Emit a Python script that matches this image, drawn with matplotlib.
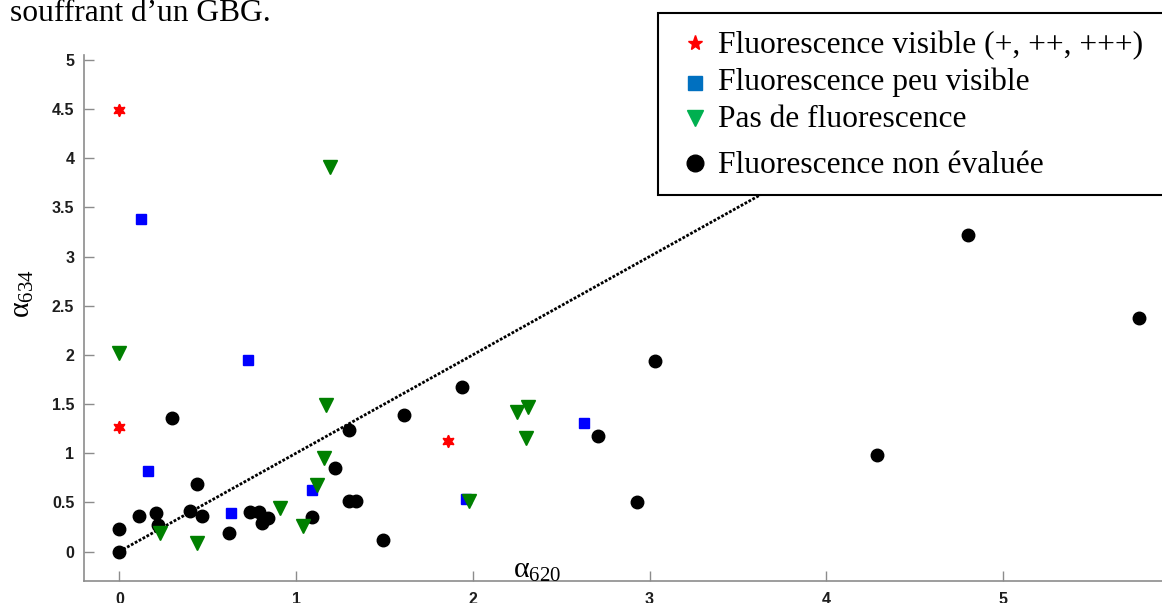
import matplotlib
matplotlib.use("Agg")
import matplotlib.pyplot as plt
from matplotlib.lines import Line2D
from matplotlib.patches import Rectangle

# values (x = alpha620, y = alpha634)
visible_x = [0.0, 0.0, 1.86]
visible_y = [4.49, 1.27, 1.12]

faint_x = [0.125, 0.164, 0.73, 0.63, 1.09, 1.96, 2.63]
faint_y = [3.38, 0.82, 1.95, 0.39, 0.63, 0.53, 1.31]

none_x = [0.0, 1.19, 0.23, 0.44, 0.91, 1.04, 1.12, 1.16, 1.17, 1.98, 2.25, 2.31, 2.30]
none_y = [2.02, 3.91, 0.19, 0.09, 0.44, 0.26, 0.68, 0.95, 1.49, 0.51, 1.42, 1.47, 1.15]

noeval_x = [0.0, 0.0, 0.11, 0.21, 0.22, 0.30, 0.40, 0.44, 0.47, 0.62, 0.74, 0.79,
            0.81, 0.84, 1.09, 1.22, 1.30, 1.30, 1.34, 1.49, 1.61, 1.94, 2.71, 2.93,
            3.03, 4.29, 4.80, 5.77]
noeval_y = [0.0, 0.23, 0.36, 0.39, 0.27, 1.36, 0.41, 0.69, 0.36, 0.19, 0.40, 0.40,
            0.29, 0.34, 0.35, 0.85, 1.24, 0.51, 0.51, 0.12, 1.39, 1.67, 1.17, 0.50,
            1.94, 0.98, 3.22, 2.38]

diag_x = [0, 5]
diag_y = [0, 5]

x_ticks = [0, 1, 2, 3, 4, 5]
y_ticks = [0, 0.5, 1, 1.5, 2, 2.5, 3, 3.5, 4, 4.5, 5]
y_ticklabels = ["0", "0.5", "1", "1.5", "2", "2.5", "3", "3.5", "4", "4.5", "5"]

legend_labels = ["Fluorescence visible (+, ++, +++)",
                 "Fluorescence peu visible",
                 "Pas de fluorescence",
                 "Fluorescence non évaluée"]

plt.rcParams['mathtext.fontset'] = 'custom'
plt.rcParams['mathtext.rm'] = 'Liberation Serif'

fig = plt.figure(figsize=(11.62, 6.03), dpi=100)
ax = fig.add_axes([84 / 1162, 22 / 603, 1 - 84 / 1162, (581 - 55) / 603])

spine_col = '#8c8c8c'

ax.plot(diag_x, diag_y, color='black', linestyle=(0, (1, 0.6)), linewidth=2.0, zorder=1)
ax.plot(noeval_x, noeval_y, 'o', color='black', markersize=9, zorder=2)
ax.plot(faint_x, faint_y, 's', color='blue', markersize=7, zorder=3)
ax.plot(none_x, none_y, 'v', color='green', markersize=9.5, zorder=4)
ax.plot(visible_x, visible_y, marker=(6, 1, 0), linestyle='none', color='red',
        markersize=9, zorder=5)

ax.set_xlim(-0.2, 5.9)
ax.set_ylim(-0.3, 5.05)
ax.set_xticks(x_ticks)
ax.set_yticks(y_ticks)
ax.set_yticklabels(y_ticklabels)

for s in ['top', 'right']:
    ax.spines[s].set_visible(False)
for s in ['left', 'bottom']:
    ax.spines[s].set_color(spine_col)
    ax.spines[s].set_linewidth(1.2)

ax.tick_params(direction='in', length=7, width=1, color=spine_col,
               labelcolor='#1e1e1e')
ax.tick_params(axis='x', pad=8)
ax.tick_params(axis='y', pad=7)
for lab in ax.get_xticklabels() + ax.get_yticklabels():
    lab.set_fontfamily('Liberation Sans')
    lab.set_fontweight('bold')
    lab.set_fontsize(11.5)

# axis labels
fig.text(537 / 1162, 1 - 578 / 603, r'$\mathregular{α_{620}}$', family='Liberation Serif',
         fontsize=21.5, ha='center', va='baseline')
fig.text(23 / 1162, 1 - 294 / 603, r'$\mathregular{α_{634}}$', family='Liberation Serif',
         fontsize=21.5, ha='center', va='center', rotation=90)

# caption fragment above the chart
fig.text(10 / 1162, 1 - 21 / 603, "souffrant d\u2019un GBG.", family='Liberation Serif',
         fontsize=22.7, ha='left', va='baseline')

# legend box
fig.add_artist(Rectangle((658 / 1162, 1 - 195 / 603), 0.5, (195 - 13) / 603,
                         transform=fig.transFigure, facecolor='white',
                         edgecolor='black', linewidth=1.5, zorder=10))
leg_markers = [dict(marker='*', color='red', markersize=11),
               dict(marker='s', color='#0070C0', markersize=10),
               dict(marker='v', color='#00B050', markersize=12),
               dict(marker='o', color='black', markersize=12)]
marker_rows = [43, 83, 118, 163]
text_rows = [53, 90, 127, 173]
for lab, mk, my, ty in zip(legend_labels, leg_markers, marker_rows, text_rows):
    fig.add_artist(Line2D([695 / 1162], [1 - my / 603], transform=fig.transFigure,
                          linestyle='none', zorder=11, **mk))
    fig.text(718 / 1162, 1 - ty / 603, lab, family='Liberation Serif', fontsize=22.7,
             ha='left', va='baseline', zorder=11)

fig.savefig("out.png", dpi=100)
